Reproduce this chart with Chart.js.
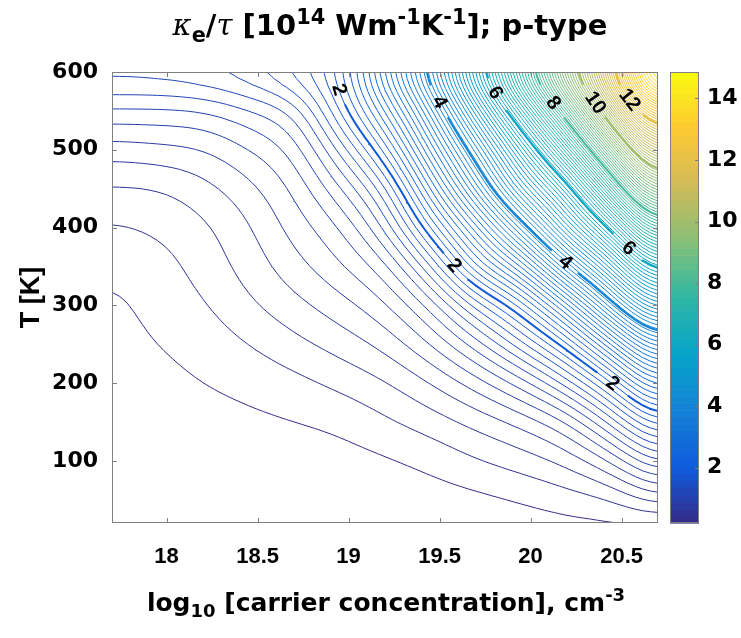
<!DOCTYPE html>
<html>
<head>
<meta charset="utf-8">
<title>kappa_e / tau, p-type</title>
<script src="https://cdn.jsdelivr.net/npm/chart.js@4.4.1/dist/chart.umd.min.js"></script>
<style>
  html, body { margin: 0; padding: 0; background: #fff; }
  #wrap { position: relative; width: 741px; height: 638px; overflow: hidden; }
  #chart { position: absolute; left: 0; top: 0; }
  .lbl { position: absolute; font-family: "DejaVu Sans", Arial, sans-serif; font-weight: bold; color: #000; white-space: nowrap; text-align: center; line-height: 1; }
  .lbl sub, .lbl sup { font-size: 72%; line-height: 0; position: relative; vertical-align: baseline; }
  .lbl sup { top: -0.55em; }
  .lbl sub { top: 0.35em; }
  .gk { font-family: "DejaVu Serif", "Liberation Serif", serif; font-style: italic; font-weight: normal; }
  #title { left: 0; width: 780px; top: 11px; font-size: 29px; }
  #xtitle { left: 0; width: 772px; top: 590px; font-size: 25px; }
</style>
</head>
<body>
<div id="wrap">
  <canvas id="chart" width="741" height="638"></canvas>
  <div id="title" class="lbl"><span class="gk">κ</span><sub>e</sub>/<span class="gk">τ</span> [10<sup>14</sup> Wm<sup>-1</sup>K<sup>-1</sup>]; p-type</div>
  <div id="xtitle" class="lbl">log<sub>10</sub> [carrier concentration], cm<sup>-3</sup></div>
</div>
<script>
// --- DATA ---
const xTicks = [18, 18.5, 19, 19.5, 20, 20.5];
const yTicks = [100, 200, 300, 400, 500, 600];
const cbTicks = [2, 4, 6, 8, 10, 12, 14];
const xRange = [17.7, 20.7];
const yRange = [20, 600];
const cbRange = [0.2, 14.86];

// grid nodes: log10 concentration (columns) and temperature in K (rows)
const xNodes = [17.7, 17.95, 18.2, 18.45, 18.7, 18.95, 19.2, 19.45, 19.7, 19.95, 20.2, 20.45, 20.7];
const tNodes = [0, 50, 100, 150, 200, 250, 300, 350, 400, 450, 500, 550, 600];

// kappa_e/tau, one row per temperature node
const kT000 = [0.2, 0.2, 0.2, 0.2, 0.2, 0.2, 0.205, 0.21, 0.22, 0.235, 0.25, 0.25, 0.2];
const kT050 = [0.212, 0.212, 0.212, 0.22, 0.226, 0.235, 0.248, 0.265, 0.29, 0.33, 0.38, 0.44, 0.6];
const kT100 = [0.224, 0.224, 0.236, 0.248, 0.26, 0.276, 0.305, 0.355, 0.43, 0.5, 0.6, 0.82, 1.18];
const kT150 = [0.24, 0.248, 0.272, 0.296, 0.318, 0.35, 0.42, 0.5, 0.6, 0.72, 0.92, 1.33, 1.85];
const kT200 = [0.262, 0.284, 0.32, 0.356, 0.404, 0.47, 0.55, 0.68, 0.86, 1.1, 1.45, 1.98, 2.7];
const kT250 = [0.28, 0.32, 0.368, 0.44, 0.524, 0.61, 0.72, 0.92, 1.22, 1.6, 2.08, 2.85, 3.7];
const kT300 = [0.3, 0.356, 0.428, 0.536, 0.64, 0.75, 0.9, 1.2, 1.68, 2.15, 2.9, 3.9, 4.9];
const kT350 = [0.345, 0.392, 0.488, 0.608, 0.752, 0.9, 1.12, 1.62, 2.35, 2.95, 3.95, 4.95, 6.2];
const kT400 = [0.428, 0.464, 0.536, 0.668, 0.848, 1.04, 1.42, 2.12, 2.9, 3.85, 4.95, 6.1, 7.7];
const kT450 = [0.548, 0.56, 0.638, 0.764, 0.944, 1.26, 1.72, 2.6, 3.6, 4.75, 5.8, 7.5, 9.4];
const kT500 = [0.74, 0.764, 0.8, 0.92, 1.088, 1.55, 2.15, 3.1, 4.2, 5.5, 7.0, 9.0, 11.1];
const kT550 = [1.016, 1.016, 1.04, 1.148, 1.316, 1.88, 2.6, 3.6, 4.95, 6.5, 8.3, 10.6, 12.9];
const kT600 = [1.34, 1.352, 1.4, 1.5, 1.7, 2.05, 3.0, 4.15, 5.7, 7.5, 9.6, 11.9, 14.8];

// contour levels: thin lines every 0.12, thick labelled ones at even values
const levelFirst = 0.32;
const levelStep = 0.12;
const levelCount = 121;
const labelledLevels = [2, 4, 6, 8, 10, 12];
// inline labels: [level, temperature where the label sits on that contour]
const contourLabels = [[2, 577], [2, 351], [2, 199], [4, 561], [4, 355], [6, 573], [6, 373], [8, 560], [10, 560], [12, 564]];

// --- COLOURS (parula) ---
const parulaStops = ['#352a87', '#0f5cdd', '#1481d6', '#06a4ca', '#2eb7a4', '#87bf77', '#d1bb59', '#fec832', '#f9fb0e'];
const stopRgb = parulaStops.map(h => [1, 3, 5].map(i => parseInt(h.substr(i, 2), 16)));

function parula(t) {
    t = Math.min(1, Math.max(0, t));
    const p = t * (stopRgb.length - 1);
    const i = Math.min(stopRgb.length - 2, Math.floor(p));
    const f = p - i;
    const c = stopRgb[i].map((v, k) => Math.round(v + f * (stopRgb[i + 1][k] - v)));
    return `rgb(${c[0]},${c[1]},${c[2]})`;
}
const levelColor = v => parula((v - cbRange[0]) / (cbRange[1] - cbRange[0]));

// --- FIELD: smooth the read grid for drawing ---
const grid = [kT000, kT050, kT100, kT150, kT200, kT250, kT300, kT350, kT400, kT450, kT500, kT550, kT600];
const R = 6;

function catmull(p0, p1, p2, p3, t) {
    return p1 + 0.5 * t * (p2 - p0 + t * (2 * p0 - 5 * p1 + 4 * p2 - p3 + t * (3 * (p1 - p2) + p3 - p0)));
}

function refine(g, r) {
    const ny = g.length, nx = g[0].length;
    const at = (i, j) => g[Math.min(ny - 1, Math.max(0, i))][Math.min(nx - 1, Math.max(0, j))];
    const out = [];
    for (let fi = 0; fi <= (ny - 1) * r; fi++) {
        let i0 = Math.floor(fi / r), ti = fi / r - i0;
        if (i0 >= ny - 1) { i0 = ny - 2; ti = 1; }
        const row = [];
        for (let fj = 0; fj <= (nx - 1) * r; fj++) {
            let j0 = Math.floor(fj / r), tj = fj / r - j0;
            if (j0 >= nx - 1) { j0 = nx - 2; tj = 1; }
            const col = [-1, 0, 1, 2].map(di =>
                catmull(at(i0 + di, j0 - 1), at(i0 + di, j0), at(i0 + di, j0 + 1), at(i0 + di, j0 + 2), tj));
            row.push(catmull(col[0], col[1], col[2], col[3], ti));
        }
        out.push(row);
    }
    return out;
}

// light box blur so the drawn lines have no kinks at the grid nodes
function soften(F, rad, passes) {
    let g = F.map(r => r.slice());
    const ny = g.length, nx = g[0].length;
    for (let p = 0; p < passes; p++) {
        const h = g.map(row => row.map((_, j) => {
            let s = 0;
            for (let d = -rad; d <= rad; d++) s += row[Math.min(nx - 1, Math.max(0, j + d))];
            return s / (2 * rad + 1);
        }));
        g = h.map((row, i) => row.map((_, j) => {
            let s = 0;
            for (let d = -rad; d <= rad; d++) s += h[Math.min(ny - 1, Math.max(0, i + d))][j];
            return s / (2 * rad + 1);
        }));
    }
    return g;
}

const fine = soften(refine(grid, R), 2, 2);
const fineX = fine[0].map((_, j) => xNodes[0] + j * (xNodes[1] - xNodes[0]) / R);
const fineY = fine.map((_, i) => tNodes[0] + i * (tNodes[1] - tNodes[0]) / R);

// --- MARCHING SQUARES ---
function contour(F, xs, ys, level) {
    const ny = F.length, nx = F[0].length;
    const pts = new Map(), adj = new Map(), segs = [];
    const hKey = (i, j) => {
        const k = 'h' + i + '_' + j;
        if (!pts.has(k)) {
            const t = (level - F[i][j]) / (F[i][j + 1] - F[i][j]);
            pts.set(k, { x: xs[j] + t * (xs[j + 1] - xs[j]), y: ys[i] });
        }
        return k;
    };
    const vKey = (i, j) => {
        const k = 'v' + i + '_' + j;
        if (!pts.has(k)) {
            const t = (level - F[i][j]) / (F[i + 1][j] - F[i][j]);
            pts.set(k, { x: xs[j], y: ys[i] + t * (ys[i + 1] - ys[i]) });
        }
        return k;
    };
    const addSeg = (k1, k2) => {
        const id = segs.length;
        segs.push([k1, k2]);
        [k1, k2].forEach(k => { if (!adj.has(k)) adj.set(k, []); adj.get(k).push(id); });
    };
    for (let i = 0; i < ny - 1; i++) {
        for (let j = 0; j < nx - 1; j++) {
            const a = F[i][j], b = F[i][j + 1], c = F[i + 1][j + 1], d = F[i + 1][j];
            const idx = (a >= level ? 1 : 0) | (b >= level ? 2 : 0) | (c >= level ? 4 : 0) | (d >= level ? 8 : 0);
            if (idx === 0 || idx === 15) continue;
            const B = () => hKey(i, j), T = () => hKey(i + 1, j), L = () => vKey(i, j), Rt = () => vKey(i, j + 1);
            switch (idx) {
                case 1: case 14: addSeg(L(), B()); break;
                case 2: case 13: addSeg(B(), Rt()); break;
                case 3: case 12: addSeg(L(), Rt()); break;
                case 4: case 11: addSeg(Rt(), T()); break;
                case 6: case 9: addSeg(B(), T()); break;
                case 7: case 8: addSeg(L(), T()); break;
                default: {
                    const highCentre = (a + b + c + d) / 4 >= level;
                    if ((idx === 5) === highCentre) { addSeg(B(), Rt()); addSeg(T(), L()); }
                    else { addSeg(L(), B()); addSeg(Rt(), T()); }
                }
            }
        }
    }
    // join the cell segments into polylines
    const used = new Uint8Array(segs.length);
    const lines = [];
    for (let s = 0; s < segs.length; s++) {
        if (used[s]) continue;
        used[s] = 1;
        const chain = [segs[s][0], segs[s][1]];
        for (const forward of [true, false]) {
            while (true) {
                const end = forward ? chain[chain.length - 1] : chain[0];
                const next = (adj.get(end) || []).find(id => !used[id]);
                if (next === undefined) break;
                used[next] = 1;
                const other = segs[next][0] === end ? segs[next][1] : segs[next][0];
                if (forward) chain.push(other); else chain.unshift(other);
            }
        }
        lines.push(chain.map(k => pts.get(k)));
    }
    return lines;
}

function toSeries(lines) {
    const data = [];
    lines.forEach(l => { data.push(...l); data.push({ x: NaN, y: NaN }); });
    return data;
}

// --- LABEL SPOTS ---
const thickLines = {};
labelledLevels.forEach(v => { thickLines[v] = contour(fine, fineX, fineY, v); });

function findSpot(level, t) {
    for (const line of thickLines[level]) {
        for (let k = 0; k < line.length - 1; k++) {
            const p = line[k], q = line[k + 1];
            if ((p.y - t) * (q.y - t) <= 0 && p.y !== q.y) {
                const f = (t - p.y) / (q.y - p.y);
                return {
                    level, x: p.x + f * (q.x - p.x), y: t,
                    a: line[Math.max(0, k - 2)], b: line[Math.min(line.length - 1, k + 3)]
                };
            }
        }
    }
    return null;
}
const spots = contourLabels.map(([v, t]) => findSpot(v, t)).filter(s => s);

// --- DATASETS ---
const datasets = [];
for (let k = 0; k < levelCount; k++) {
    const v = Math.round((levelFirst + k * levelStep) * 100) / 100;
    datasets.push({
        data: toSeries(contour(fine, fineX, fineY, v)),
        borderColor: levelColor(v), borderWidth: 1,
        showLine: true, pointRadius: 0, spanGaps: false, yAxisID: 'y'
    });
}

const gapPx = 15;
labelledLevels.forEach(v => {
    const mine = spots.filter(s => s.level === v);
    datasets.push({
        data: toSeries(thickLines[v]),
        borderColor: levelColor(v), borderWidth: 2,
        showLine: true, pointRadius: 0, spanGaps: false, yAxisID: 'y',
        segment: {
            borderColor: ctx => {
                const sx = ctx.chart.scales.x, sy = ctx.chart.scales.y;
                const near = mine.some(s => {
                    const px = sx.getPixelForValue(s.x), py = sy.getPixelForValue(s.y);
                    return Math.hypot(ctx.p0.x - px, ctx.p0.y - py) < gapPx || Math.hypot(ctx.p1.x - px, ctx.p1.y - py) < gapPx;
                });
                return near ? 'rgba(0,0,0,0)' : undefined;
            }
        }
    });
});

// --- PLUGIN: labels, box, inward ticks, colour bar ---
const axisGrey = '#7f7f7f';
const labelFont = 'bold 20px "Liberation Sans", Arial, sans-serif';

const decorPlugin = {
    id: 'decor',
    afterDatasetsDraw(chart) {
        const { ctx, scales: { x, y } } = chart;
        ctx.save();
        ctx.font = labelFont;
        ctx.fillStyle = '#000';
        ctx.textAlign = 'center';
        ctx.textBaseline = 'middle';
        spots.forEach(s => {
            const px = x.getPixelForValue(s.x), py = y.getPixelForValue(s.y);
            let ang = Math.atan2(y.getPixelForValue(s.b.y) - y.getPixelForValue(s.a.y),
                                 x.getPixelForValue(s.b.x) - x.getPixelForValue(s.a.x));
            if (ang > Math.PI / 2) ang -= Math.PI;
            if (ang < -Math.PI / 2) ang += Math.PI;
            ctx.save();
            ctx.translate(px, py);
            ctx.rotate(ang);
            ctx.fillText(String(s.level), 0, 0);
            ctx.restore();
        });
        ctx.restore();
    },
    afterDraw(chart) {
        const { ctx, chartArea: a, scales: { x, y, cb } } = chart;
        ctx.save();
        ctx.strokeStyle = axisGrey;
        ctx.lineWidth = 1;
        ctx.strokeRect(a.left + 0.5, a.top + 0.5, a.right - a.left - 1, a.bottom - a.top - 1);
        const tl = 5;
        ctx.beginPath();
        xTicks.forEach(v => {
            const px = Math.round(x.getPixelForValue(v)) + 0.5;
            ctx.moveTo(px, a.bottom); ctx.lineTo(px, a.bottom - tl);
            ctx.moveTo(px, a.top); ctx.lineTo(px, a.top + tl);
        });
        yTicks.forEach(v => {
            const py = Math.round(y.getPixelForValue(v)) + 0.5;
            ctx.moveTo(a.left, py); ctx.lineTo(a.left + tl, py);
            ctx.moveTo(a.right, py); ctx.lineTo(a.right - tl, py);
        });
        ctx.stroke();

        // colour bar
        const cx0 = cb.left + 12, cw = 29;
        const yTop = cb.getPixelForValue(cbRange[1]), yBot = cb.getPixelForValue(cbRange[0]);
        const bands = 64;
        for (let k = 0; k < bands; k++) {
            const y0 = yBot + (yTop - yBot) * k / bands;
            const y1 = yBot + (yTop - yBot) * (k + 1) / bands;
            ctx.fillStyle = parula((k + 0.5) / bands);
            ctx.fillRect(cx0, y1, cw, y0 - y1 + 0.6);
        }
        ctx.strokeStyle = axisGrey;
        ctx.strokeRect(cx0 + 0.5, yTop + 0.5, cw - 1, yBot - yTop - 1);
        ctx.beginPath();
        cbTicks.forEach(v => {
            const py = Math.round(cb.getPixelForValue(v)) + 0.5;
            ctx.moveTo(cx0 + cw, py); ctx.lineTo(cx0 + cw - 4, py);
        });
        ctx.stroke();
        ctx.restore();
    }
};

// --- CHART ---
Chart.defaults.font.family = '"Liberation Sans", Arial, sans-serif';
const xTickFont = { size: 22, weight: 'bold' };
const yTickFont = { family: '"DejaVu Sans", sans-serif', size: 22, weight: 'bold' };

new Chart(document.getElementById('chart').getContext('2d'), {
    type: 'scatter',
    data: { datasets },
    options: {
        responsive: false,
        animation: false,
        devicePixelRatio: 1,
        parsing: false,
        events: [],
        layout: { padding: { left: 0, right: 0, top: 72, bottom: 0 } },
        plugins: { legend: { display: false }, tooltip: { enabled: false }, title: { display: false } },
        scales: {
            x: {
                type: 'linear', position: 'bottom', min: xRange[0], max: xRange[1],
                grid: { display: false, drawTicks: false }, border: { display: false },
                ticks: { font: xTickFont, color: '#000', padding: 21, maxRotation: 0, callback: v => String(v) },
                afterBuildTicks: s => { s.ticks = xTicks.map(v => ({ value: v })); },
                afterFit: s => { s.height = 115; }
            },
            y: {
                type: 'linear', position: 'left', min: yRange[0], max: yRange[1],
                grid: { display: false, drawTicks: false }, border: { display: false },
                ticks: { font: yTickFont, color: '#000', padding: 14, callback: v => String(v) },
                title: { display: true, text: 'T [K]', color: '#000', font: { size: 27, weight: 'bold' }, padding: { top: 15, bottom: 0 } },
                afterBuildTicks: s => { s.ticks = yTicks.map(v => ({ value: v })); },
                afterFit: s => { s.width = 112; }
            },
            cb: {
                type: 'linear', position: 'right', min: cbRange[0], max: cbRange[1],
                grid: { display: false, drawTicks: false }, border: { display: false },
                ticks: { font: yTickFont, color: '#000', padding: 49, callback: v => String(v) },
                afterBuildTicks: s => { s.ticks = cbTicks.map(v => ({ value: v })); },
                afterFit: s => { s.width = 83; }
            }
        }
    },
    plugins: [decorPlugin]
});
</script>
</body>
</html>
